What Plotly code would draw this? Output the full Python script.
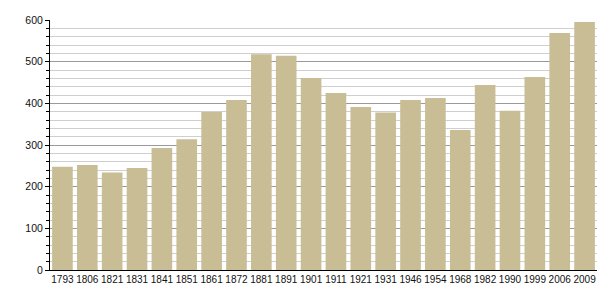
import plotly.graph_objects as go

years = ["1793", "1806", "1821", "1831", "1841", "1851", "1861", "1872", "1881", "1891",
         "1901", "1911", "1921", "1931", "1946", "1954", "1968", "1982", "1990", "1999",
         "2006", "2009"]
population = [248, 252, 234, 245, 293, 314, 379, 408, 518, 514,
              461, 425, 391, 378, 408, 413, 336, 444, 382, 463,
              569, 595]

fig = go.Figure()
fig.add_trace(go.Bar(
    x=years, y=population,
    marker=dict(color="#C8BD95", line=dict(width=0)),
    hoverinfo="x+y",
))

fig.update_layout(
    width=605, height=300,
    margin=dict(l=50, r=8, t=20, b=30),
    paper_bgcolor="white", plot_bgcolor="white",
    bargap=0.17,
    showlegend=False,
    font=dict(family="Liberation Sans, Arial, sans-serif", size=11, color="#111"),
)
fig.update_xaxes(
    type="category",
    showline=True, linecolor="black", linewidth=1,
    ticks="", showgrid=False,
    tickangle=0, automargin=False,
    tickfont=dict(size=10, color="#111"),
)
fig.update_yaxes(
    range=[0, 600], dtick=100,
    showline=True, linecolor="black", linewidth=1,
    ticks="outside", ticklen=4, tickcolor="black",
    showgrid=True, gridcolor="#9a9a9a", gridwidth=1,
    zeroline=False, automargin=False,
    minor=dict(dtick=20, showgrid=True, gridcolor="#cfcfcf", gridwidth=1,
               ticks="outside", ticklen=3, tickcolor="black"),
    tickfont=dict(size=10.5, color="#111"),
)

fig.write_html("out.html")
